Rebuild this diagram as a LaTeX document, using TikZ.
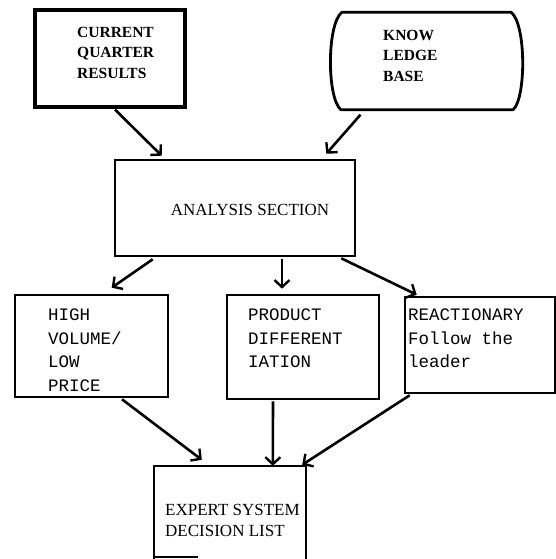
\documentclass[tikz,border=0pt]{standalone}
\usepackage{fontspec}
\setmainfont{Liberation Serif}
\newfontfamily\monofnt{Liberation Mono}
\usetikzlibrary{arrows.meta,calc}
\tikzset{
  box/.style={draw, line width=2.6pt, minimum width=#1, inner sep=0pt},
  topbox/.style={draw, line width=3.2pt, inner sep=0pt},
  txtbold/.style={inner sep=0pt, align=left, font=\fontsize{15.5}{20.5}\selectfont\bfseries},
  txtmono/.style={inner sep=0pt, align=left, font=\fontsize{17.5}{23.5}\selectfont\monofnt},
  txtserif/.style={inner sep=0pt, align=left, font=\fontsize{17}{21}\selectfont},
  arr/.style={line width=2.6pt, -{Straight Barb[length=7pt,width=15pt,line width=2.4pt]}},
}
\begin{document}
\begin{tikzpicture}[x=1pt,y=-1pt]
\useasboundingbox (0,0) rectangle (556,559);
% boxes
\node[topbox, minimum width=150pt, minimum height=97pt] (cqr) at (110,58.5) {};
\node[txtbold, anchor=north west] (cqrt) at (77,27) {CURRENT\\QUARTER\\RESULTS};
\node[inner sep=0pt, minimum width=193pt, minimum height=97pt] (kb) at (426.5,61) {};
\draw[line width=2.8pt, line join=round]
  ($(kb.north west)+(12,0)$) -- ($(kb.north east)+(-12,0)$)
  .. controls ($(kb.north east)+(3,12)$) and ($(kb.south east)+(3,-12)$) .. ($(kb.south east)+(-10,0)$)
  -- ($(kb.south west)+(11,0)$)
  .. controls ($(kb.south west)+(-3,-12)$) and ($(kb.north west)+(-3,12)$) .. cycle;
\node[txtbold, anchor=north west] (kbt) at (383,30) {KNOW\\LEDGE\\BASE};
\node[box=240pt, minimum height=96pt] (ana) at (235,208) {};
\node[txtserif] (anat) at (250,210) {ANALYSIS SECTION};
\node[box=153pt, minimum height=102pt] (hv) at (91.5,346) {};
\node[txtmono, anchor=north west] (hvt) at (48,309) {HIGH\\VOLUME/\\LOW\\PRICE};
\node[box=152pt, minimum height=104pt] (pd) at (303,347) {};
\node[txtmono, anchor=north west] (pdt) at (248,309) {PRODUCT\\DIFFERENT\\IATION};
\node[box=150pt, minimum height=96pt] (re) at (480,345) {};
\node[txtmono, anchor=north west] (ret) at (408,309) {REACTIONARY\\Follow the\\leader};
\node[inner sep=0pt, minimum width=152pt, minimum height=93pt] (ex) at (230,512.5) {};
\draw[line width=2pt] (ex.south west) -- (ex.north west) -- (ex.north east) -- (ex.south east);
\draw[line width=2pt] ($(ex.south west)+(1,-2)$) -- ($(ex.south west)+(44,-2)$);
\node[txtserif, anchor=north west] (ext) at (165,504) {EXPERT SYSTEM\\DECISION LIST};
% connectors
\draw[arr] ($(cqr.south)+(5,1)$) -- ($(ana.north west)+(48,-3)$);
\draw[arr] ($(kb.south)+(-66,5)$) -- ($(ana.north east)+(-30,-5)$);
\draw[arr] ($(ana.south west)+(39,2)$) -- ($(hv.north west)+(98,-6)$);
\draw[arr] ($(ana.south)+(47,2)$) -- ($(pd.north)+(-21,-5)$);
\draw[arr] ($(ana.south east)+(-15,1)$) -- ($(re.north west)+(13,-1)$);
\draw[arr] ($(hv.south)+(30.5,1)$) -- ($(ex.north west)+(48,-6)$);
\draw[arr] ($(pd.south)+(-30,1)$) -- ($(ex.north west)+(119,0)$);
\draw[arr] ($(re.south west)+(6,1)$) -- ($(ex.north east)+(-4,-1)$);
\end{tikzpicture}
\end{document}
